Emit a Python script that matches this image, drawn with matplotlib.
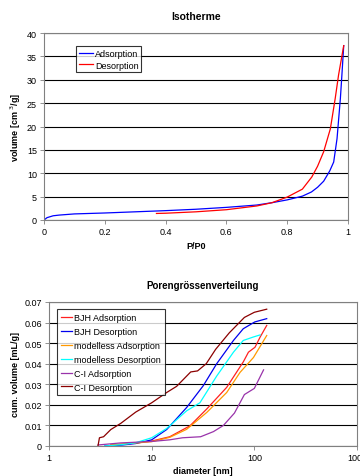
import matplotlib
matplotlib.use("Agg")
import matplotlib.pyplot as plt

plt.rcParams['font.family'] = ['Liberation Sans', 'DejaVu Sans']

# --- Isotherme ---
ads_p = [0.0, 0.01, 0.03, 0.05, 0.1, 0.2, 0.3, 0.4, 0.5, 0.6, 0.7, 0.75, 0.8, 0.85,
         0.88, 0.9, 0.92, 0.94, 0.953, 0.964, 0.975, 0.98, 0.986]
ads_v = [0.0, 0.5, 0.9, 1.05, 1.3, 1.5, 1.75, 2.0, 2.3, 2.7, 3.2, 3.7, 4.3, 5.1,
         6.0, 7.0, 8.3, 10.5, 12.4, 17.4, 26.0, 31.0, 37.3]
des_p = [0.37, 0.4, 0.5, 0.6, 0.7, 0.75, 0.8, 0.85, 0.881, 0.9, 0.92, 0.942,
         0.958, 0.969, 0.986]
des_v = [1.4, 1.45, 1.75, 2.2, 3.0, 3.7, 4.9, 6.6, 9.2, 11.5, 14.6, 19.5,
         26.0, 31.0, 37.3]

# --- Porengroessenverteilung ---
bjh_ads_d = [4.0, 5.0, 7.0, 10.0, 15.0, 23.6, 34.4, 53.8, 78.3, 87.6, 101.5, 114.0, 132.0]
bjh_ads_v = [0.0005, 0.0008, 0.0014, 0.0024, 0.0045, 0.0098, 0.018, 0.0285, 0.041, 0.0456, 0.048, 0.053, 0.0586]
bjh_des_d = [3.5, 5.0, 7.0, 10.0, 14.0, 21.9, 31.8, 43.0, 62.6, 78.0, 101.0, 132.0]
bjh_des_v = [0.0, 0.0004, 0.0012, 0.003, 0.008, 0.0187, 0.0293, 0.040, 0.0513, 0.057, 0.0603, 0.0619]
ml_ads_d = [4.0, 6.0, 10.0, 15.0, 21.9, 34.4, 53.8, 72.6, 98.0, 132.0]
ml_ads_v = [0.0005, 0.0012, 0.0021, 0.0042, 0.0081, 0.0163, 0.026, 0.0358, 0.043, 0.0537]
ml_des_d = [3.5, 5.0, 7.0, 10.0, 14.0, 21.9, 29.5, 43.0, 62.6, 78.0, 98.0, 114.0]
ml_des_v = [0.0, 0.0006, 0.0016, 0.004, 0.0085, 0.0171, 0.021, 0.034, 0.0456, 0.0513, 0.053, 0.054]
ci_ads_d = [3.0, 5.0, 10.0, 15.0, 20.0, 30.0, 40.0, 50.0, 64.0, 80.0, 100.0, 123.0]
ci_ads_v = [0.0005, 0.0015, 0.0022, 0.003, 0.004, 0.0045, 0.007, 0.010, 0.016, 0.025, 0.028, 0.037]
ci_des_d = [3.0, 3.1, 3.4, 4.0, 5.0, 7.0, 10.0, 14.0, 17.5, 24.0, 28.0, 34.0, 42.0, 57.0, 80.0, 100.0, 132.0]
ci_des_v = [0.0, 0.004, 0.0045, 0.008, 0.011, 0.0165, 0.021, 0.026, 0.029, 0.036, 0.0365, 0.040, 0.047, 0.055, 0.0625, 0.065, 0.0665]

fig = plt.figure(figsize=(3.6, 4.77), dpi=100)

def style(ax):
    for s in ax.spines.values():
        s.set_color('#808080')
        s.set_linewidth(0.8)
    ax.yaxis.grid(True, color='black', linewidth=0.8)
    ax.set_axisbelow(True)
    ax.tick_params(labelsize=6.5, length=3, width=0.6, color='#808080', pad=2)

ax1 = fig.add_axes([0.1222, 0.5367, 0.8444, 0.392])
style(ax1)
ax1.plot(ads_p, ads_v, color='#0000ff', lw=0.9, label='Adsorption')
ax1.plot(des_p, des_v, color='#ff0000', lw=0.9, label='Desorption')
ax1.set_xlim(0, 1)
ax1.set_ylim(0, 40)
ax1.set_xticks([0, 0.2, 0.4, 0.6, 0.8, 1])
ax1.set_xticklabels(['0', '0.2', '0.4', '0.6', '0.8', '1'])
ax1.set_yticks(range(0, 41, 5))
ax1.set_title('Isotherme', fontsize=7.5, fontweight='bold', pad=10)
ax1.set_xlabel('P/P0', fontsize=6.5, fontweight='bold', labelpad=4)
ax1.set_ylabel('volume [cm $^3$/g]', fontsize=6.5, fontweight='bold', labelpad=3)
leg1 = ax1.legend(loc='upper left', bbox_to_anchor=(0.105, 0.93), fontsize=6.5,
                  frameon=True, fancybox=False, edgecolor='black', handlelength=1.6,
                  borderpad=0.3, labelspacing=0.3, handletextpad=0.2, borderaxespad=0)
leg1.get_frame().set_linewidth(0.8)

ax2 = fig.add_axes([0.1361, 0.0629, 0.8556, 0.3019])
style(ax2)
ax2.plot(bjh_ads_d, bjh_ads_v, color='#ff2020', lw=0.9, label='BJH Adsorption')
ax2.plot(bjh_des_d, bjh_des_v, color='#0000ee', lw=0.9, label='BJH Desorption')
ax2.plot(ml_ads_d, ml_ads_v, color='#ff9900', lw=0.9, label='modelless Adsorption')
ax2.plot(ml_des_d, ml_des_v, color='#00ffff', lw=0.9, label='modelless Desorption')
ax2.plot(ci_ads_d, ci_ads_v, color='#9933aa', lw=0.9, label='C-I Adsorption')
ax2.plot(ci_des_d, ci_des_v, color='#8b0000', lw=0.9, label='C-I Desorption')
ax2.set_xscale('log')
ax2.set_xlim(1, 1000)
ax2.set_ylim(0, 0.07)
ax2.set_xticks([1, 10, 100, 1000])
ax2.set_xticklabels(['1', '10', '100', '1000'])
ax2.minorticks_off()
ax2.set_yticks([0, 0.01, 0.02, 0.03, 0.04, 0.05, 0.06, 0.07])
ax2.set_yticklabels(['0', '0.01', '0.02', '0.03', '0.04', '0.05', '0.06', '0.07'])
ax2.set_title('Porengrössenverteilung', fontsize=7, fontweight='bold', pad=10)
ax2.set_xlabel('diameter [nm]', fontsize=6.5, fontweight='bold', labelpad=3)
ax2.set_ylabel('cum. volume [mL/g]', fontsize=6.5, fontweight='bold', labelpad=3)
leg2 = ax2.legend(loc='upper left', bbox_to_anchor=(0.026, 0.95), fontsize=6.5,
                  frameon=True, fancybox=False, edgecolor='black', handlelength=1.3,
                  borderpad=0.4, labelspacing=0.55, handletextpad=0.2, borderaxespad=0)
leg2.get_frame().set_linewidth(0.8)

fig.savefig('out.png', dpi=100, facecolor='white')
